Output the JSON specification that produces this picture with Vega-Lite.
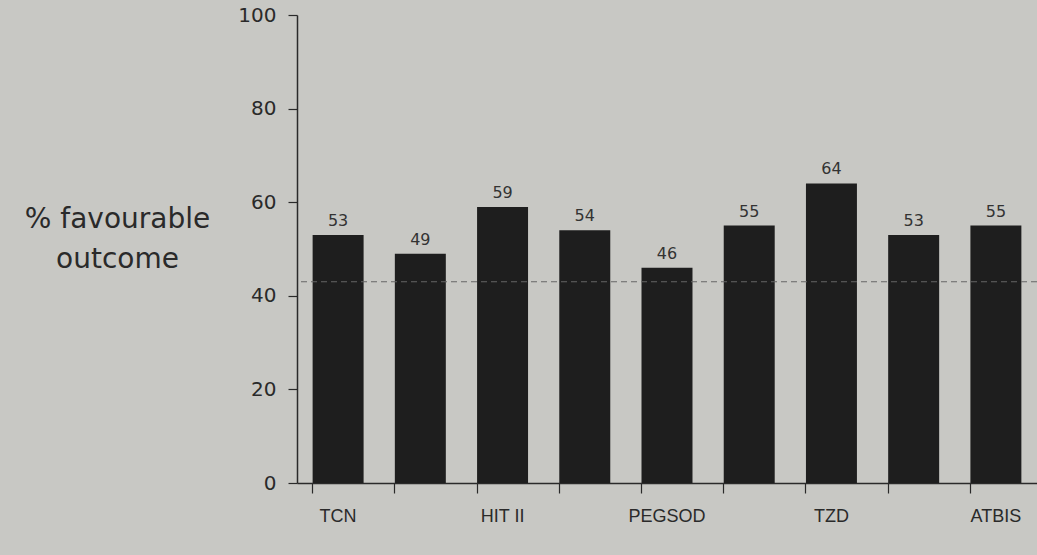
{
  "$schema": "https://vega.github.io/schema/vega-lite/v6.json",
  "autosize": {"type": "none"},
  "padding": {"left": 297, "top": 15, "right": 0, "bottom": 72},
  "width": 740,
  "height": 468,
  "background": "#c8c8c4",
  "config": {
    "view": {"stroke": null},
    "font": "DejaVu Sans"
  },
  "data": {
    "values": [
      {"trial": "TCN", "pct": 53},
      {"trial": "Trial 2", "pct": 49},
      {"trial": "HIT II", "pct": 59},
      {"trial": "Trial 4", "pct": 54},
      {"trial": "PEGSOD", "pct": 46},
      {"trial": "Trial 6", "pct": 55},
      {"trial": "TZD", "pct": 64},
      {"trial": "Trial 8", "pct": 53},
      {"trial": "ATBIS", "pct": 55}
    ]
  },
  "encoding": {
    "x": {
      "field": "trial",
      "type": "nominal",
      "sort": null,
      "scale": {"paddingInner": 0.38, "paddingOuter": 0.19},
      "axis": {
        "title": null,
        "labelAngle": 0,
        "labelExpr": "indexof(['TCN','HIT II','PEGSOD','TZD','ATBIS'], datum.value) >= 0 ? datum.value : ''",
        "bandPosition": 0,
        "tickSize": 10,
        "labelPadding": 14,
        "labelFontSize": 18,
        "labelFont": "Liberation Sans",
        "labelColor": "#2a2a2a",
        "domainColor": "#2a2a2a",
        "tickColor": "#2a2a2a",
        "domainWidth": 1.5,
        "tickWidth": 1.2
      }
    },
    "y": {
      "field": "pct",
      "type": "quantitative",
      "scale": {"domain": [0, 100]},
      "axis": {
        "values": [0, 20, 40, 60, 80, 100],
        "grid": false,
        "tickSize": 9,
        "labelPadding": 12,
        "labelFontSize": 20,
        "labelColor": "#2a2a2a",
        "domainColor": "#2a2a2a",
        "tickColor": "#2a2a2a",
        "domainWidth": 1.5,
        "tickWidth": 1.2,
        "title": ["% favourable", "outcome"],
        "titleAngle": 0,
        "titleFontSize": 28,
        "titleFontWeight": "normal",
        "titleColor": "#2a2a2a",
        "titleAlign": "center",
        "titleBaseline": "top",
        "titleX": -180,
        "titleY": 190,
        "titleLineHeight": 40
      }
    }
  },
  "layer": [
    {
      "mark": {"type": "bar", "color": "#1e1e1e"}
    },
    {
      "mark": {"type": "text", "dy": -14, "fontSize": 16, "color": "#333333"},
      "encoding": {"text": {"field": "pct", "type": "quantitative"}}
    },
    {
      "data": {"values": [{"ref": 43}]},
      "mark": {"type": "rule", "strokeDash": [6, 4], "color": "#666666", "strokeWidth": 1},
      "encoding": {"y": {"field": "ref", "type": "quantitative"}, "x": null}
    }
  ]
}
